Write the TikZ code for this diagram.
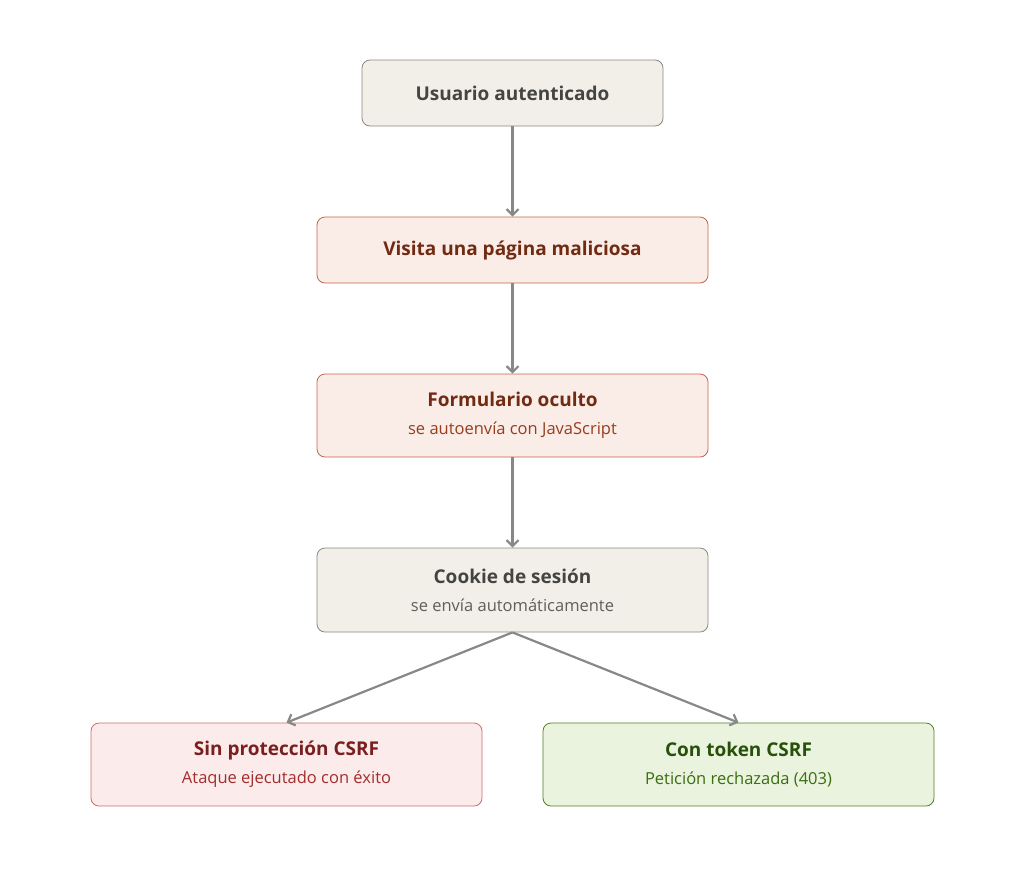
\documentclass[tikz,border=0pt]{standalone}
\usepackage{fontspec}
\setmainfont{Open Sans}
\usetikzlibrary{positioning,arrows.meta}

\definecolor{grisfondo}{HTML}{F1EFE8}
\definecolor{grisborde}{HTML}{8A8880}
\definecolor{gristexto}{HTML}{444441}
\definecolor{grissub}{HTML}{5F5E5A}
\definecolor{rojofondo}{HTML}{FAECE7}
\definecolor{rojoborde}{HTML}{C5664B}
\definecolor{rojotexto}{HTML}{712B13}
\definecolor{rojosub}{HTML}{993C1D}
\definecolor{malfondo}{HTML}{FCEBEB}
\definecolor{malborde}{HTML}{D06A6A}
\definecolor{maltexto}{HTML}{791F1F}
\definecolor{malsub}{HTML}{A32D2D}
\definecolor{bienfondo}{HTML}{EAF3DE}
\definecolor{bienborde}{HTML}{4F7F28}
\definecolor{bientexto}{HTML}{27500A}
\definecolor{biensub}{HTML}{3B6D11}
\definecolor{flecha}{HTML}{888888}

\tikzset{
  caja/.style={rectangle, rounded corners=8pt, line width=0.8pt, align=center,
    minimum width=391pt, inner sep=0pt, font=\fontsize{16.5}{28}\selectfont},
  gris/.style={caja, fill=grisfondo, draw=grisborde, text=gristexto},
  rojo/.style={caja, fill=rojofondo, draw=rojoborde, text=rojotexto},
  malo/.style={caja, fill=malfondo, draw=malborde, text=maltexto},
  bueno/.style={caja, fill=bienfondo, draw=bienborde, text=bientexto},
  paso/.style={-{Straight Barb[length=6pt,width=12pt]}, draw=flecha, line width=2.2pt},
}
\newcommand{\titulo}[1]{{\fontsize{19}{28}\selectfont\bfseries #1}}
\newcommand{\subt}[2]{\\{\color{#1}#2}}

\begin{document}
\begin{tikzpicture}[x=1pt,y=-1pt]
  \useasboundingbox (0,0) rectangle (1024,873);
  \node[gris, minimum width=301pt, minimum height=66pt] (usuario) at (512.5,93)
    {\titulo{Usuario autenticado}};
  \node[rojo, minimum height=66pt] (visita) at (512.5,250)
    {\titulo{Visita una página maliciosa}};
  \node[rojo, minimum height=83pt] (form) at (512.5,415.5)
    {\titulo{Formulario oculto}\subt{rojosub}{se autoenvía con JavaScript}};
  \node[gris, minimum height=84pt] (cookie) at (512.5,590)
    {\titulo{Cookie de sesión}\subt{grissub}{se envía automáticamente}};
  \node[malo, minimum height=83pt] (sin) at (286.5,764.5)
    {\titulo{Sin protección CSRF}\subt{malsub}{Ataque ejecutado con éxito}};
  \node[bueno, minimum height=83pt] (con) at (738.5,764.5)
    {\titulo{Con token CSRF}\subt{biensub}{Petición rechazada (403)}};

  \draw[paso] (usuario) -- (visita);
  \draw[paso] (visita) -- (form);
  \draw[paso] (form) -- (cookie);
  \draw[paso] (cookie.south) -- (sin.north);
  \draw[paso] (cookie.south) -- (con.north);
\end{tikzpicture}
\end{document}
